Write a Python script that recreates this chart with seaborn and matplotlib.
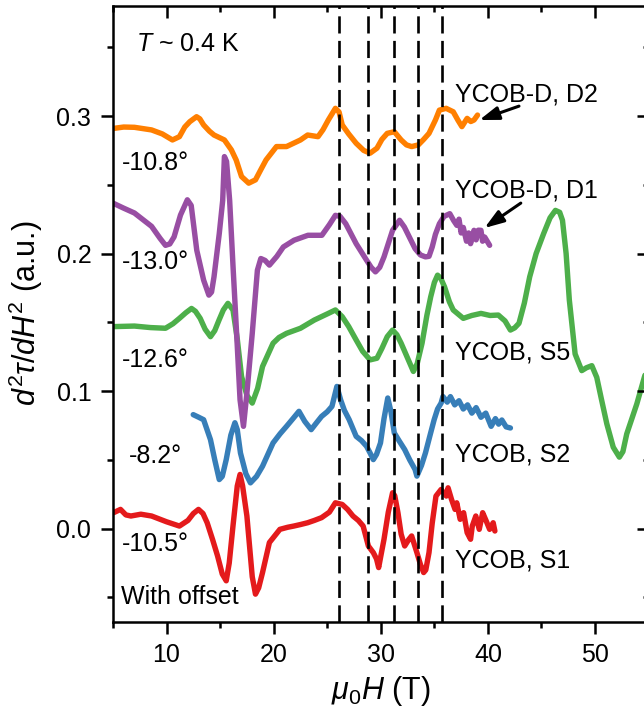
import matplotlib
matplotlib.use("Agg")
import matplotlib.pyplot as plt
from matplotlib.ticker import MultipleLocator, FormatStrFormatter
import seaborn as sns
import pandas as pd

# --- measured second-derivative torque curves (offset for clarity) ---
s1_x = [5.05, 5.7, 6.2, 6.67, 7.6, 8.6, 10.0, 11.2, 12.0, 12.5, 12.98, 13.4, 13.79, 14.3, 14.76,
        15.2, 15.57, 15.85, 16.2, 16.6, 16.86, 17.1, 17.5, 18.0, 18.3, 18.6, 18.96, 19.6,
        20.58, 21.3, 21.88, 22.5, 23.17, 23.8, 24.47, 25.2, 25.76, 26.4, 26.9, 27.4, 27.9,
        28.35, 28.84, 29.3, 29.6, 29.8, 30.0, 30.3, 30.7, 31.1, 31.3, 31.6, 31.9, 32.23, 32.6,
        32.88, 33.37, 33.7, 34.0, 34.2, 34.5, 34.8, 35.15, 35.63, 36.12, 36.28, 36.6, 36.93,
        37.09, 37.41, 37.73, 38.06, 38.38, 38.54, 38.87, 39.19, 39.51, 39.84, 40.16, 40.49,
        40.65]
s1_y = [0.0116, 0.014, 0.010, 0.0092, 0.0105, 0.0092, 0.005, 0.0019, 0.006, 0.011, 0.014,
        0.011, 0.0043, -0.008, -0.0198, -0.033, -0.0379, -0.025, 0.0019, 0.031, 0.0394, 0.031,
        0.0092, -0.035, -0.0476, -0.043, -0.0319, -0.0101, -0.0005, 0.001, 0.0019, 0.003,
        0.0043, 0.006, 0.008, 0.012, 0.0188, 0.0176, 0.014, 0.0092, 0.006, 0.0019, -0.0126,
        -0.0174, -0.022, -0.0283, -0.020, -0.0077, 0.012, 0.0261, 0.024, 0.0116, -0.004,
        -0.0126, -0.008, -0.0053, -0.0174, -0.026, -0.0319, -0.030, -0.0174, 0.004, 0.0237,
        0.0285, 0.0237, 0.0297, 0.0213, 0.0140, 0.0188, 0.0068, 0.0116, -0.0029, -0.0077,
        0.0019, 0.0092, -0.0005, 0.0116, 0.0056, -0.0005, 0.0043, -0.0017]

s2_x = [12.49, 13.0, 13.46, 14.1, 14.5, 14.92, 15.2, 15.57, 16.0, 16.38, 16.6, 16.9, 17.4,
        17.83, 18.4, 18.96, 19.94, 20.6, 21.2, 21.8, 22.36, 22.9, 23.5, 24.0, 24.47, 25.0,
        25.44, 25.9, 26.25, 26.6, 27.05, 27.7, 28.2, 28.67, 29.0, 29.3, 29.6, 29.97, 30.3,
        30.65, 30.95, 31.26, 31.7, 32.23, 32.7, 33.2, 33.37, 33.8, 34.17, 34.6, 34.98, 35.3,
        35.63, 35.8, 36.2, 36.5, 36.9, 37.3, 37.7, 38.1, 38.5, 38.9, 39.35, 39.8, 40.3, 40.7,
        41.0, 41.3, 41.7, 42.1]
s2_y = [0.0829, 0.081, 0.0792, 0.0647, 0.050, 0.0357, 0.038, 0.0502, 0.068, 0.077, 0.072,
        0.055, 0.040, 0.0333, 0.038, 0.0454, 0.0623, 0.069, 0.0744, 0.080, 0.0853, 0.078,
        0.072, 0.077, 0.0816, 0.085, 0.0889, 0.1034, 0.0937, 0.086, 0.0792, 0.0671, 0.064,
        0.0599, 0.055, 0.0502, 0.054, 0.0623, 0.080, 0.095, 0.085, 0.0696, 0.064, 0.0575,
        0.050, 0.043, 0.0382, 0.046, 0.0551, 0.068, 0.0792, 0.087, 0.0913, 0.0961, 0.092,
        0.096, 0.090, 0.093, 0.087, 0.090, 0.084, 0.088, 0.081, 0.084, 0.0744, 0.080, 0.076,
        0.079, 0.074, 0.0732]

s5_x = [5.05, 7.0, 8.5, 9.9, 10.6, 11.2, 11.8, 12.33, 12.7, 13.14, 13.6, 14.1, 14.5, 14.9,
        15.3, 15.73, 16.2, 16.6, 17.0, 17.5, 18.0, 18.5, 18.96, 19.94, 20.5, 21.2, 22.5, 23.8,
        25.1, 25.76, 26.4, 27.0, 27.7, 28.3, 29.0, 29.64, 30.1, 30.6, 31.1, 31.5, 31.9, 32.5,
        33.04, 33.4, 33.85, 34.3, 34.66, 35.0, 35.3, 35.6, 35.95, 36.4, 36.76, 37.7, 38.5,
        39.35, 40.2, 40.97, 41.6, 42.1, 42.5, 42.9, 43.4, 43.9, 44.5, 45.2, 45.8, 46.3, 46.7,
        46.96, 47.3, 47.6, 48.14, 48.76, 49.2, 49.7, 50.16, 50.6, 51.1, 51.7, 52.27, 52.6,
        52.96, 53.9, 54.6, 55.2]
s5_y = [0.1469, 0.1473, 0.1462, 0.1457, 0.149, 0.1529, 0.157, 0.1601, 0.158, 0.1529, 0.145,
        0.1396, 0.144, 0.1517, 0.159, 0.1638, 0.159, 0.138, 0.1106, 0.097, 0.0913, 0.102,
        0.1179, 0.1348, 0.139, 0.142, 0.1457, 0.1517, 0.1565, 0.159, 0.1541, 0.147, 0.1372,
        0.129, 0.1227, 0.1239, 0.131, 0.1396, 0.1444, 0.141, 0.1348, 0.124, 0.1143, 0.120,
        0.1348, 0.155, 0.1686, 0.179, 0.1843, 0.182, 0.1758, 0.165, 0.159, 0.1529, 0.155,
        0.1565, 0.155, 0.1553, 0.151, 0.1444, 0.146, 0.1493, 0.164, 0.1831, 0.200, 0.2145,
        0.226, 0.2314, 0.230, 0.2242, 0.200, 0.1662, 0.127, 0.1149, 0.117, 0.1185, 0.110,
        0.094, 0.0762, 0.0592, 0.052, 0.056, 0.0689, 0.0907, 0.110, 0.125]

d1_x = [5.05, 6.0, 7.0, 8.6, 9.4, 9.9, 10.3, 10.7, 11.3, 11.94, 12.3, 12.82, 13.46, 13.95,
        14.2, 14.43, 14.92, 15.24, 15.4, 15.6, 15.89, 16.21, 16.54, 16.86, 17.18, 17.5, 18.0,
        18.48, 18.8, 19.2, 19.6, 20.3, 20.9, 21.9, 23.2, 24.5, 25.2, 25.76, 26.2, 26.73, 27.7,
        28.67, 29.1, 29.5, 29.9, 30.3, 31.1, 31.75, 32.2, 33.2, 33.7, 34.17, 34.5, 34.8,
        35.1, 35.47, 35.9, 36.44, 36.8, 37.1, 37.3, 37.5, 37.7, 38.0, 38.2, 38.38, 38.7,
        38.9, 39.1, 39.35, 39.5, 39.7, 40.16]
d1_y = [0.2365, 0.233, 0.2295, 0.2198, 0.211, 0.206, 0.207, 0.2121, 0.228, 0.2391, 0.235,
        0.2024, 0.1807, 0.1698, 0.172, 0.1831, 0.2145, 0.2386, 0.2705, 0.267, 0.2386, 0.19,
        0.142, 0.0937, 0.0744, 0.0986, 0.142, 0.1879, 0.1964, 0.195, 0.1916, 0.198, 0.2048,
        0.2097, 0.2133, 0.2133, 0.221, 0.2278, 0.227, 0.2217, 0.2072, 0.1952, 0.190, 0.1867,
        0.190, 0.1976, 0.2169, 0.2242, 0.2193, 0.2036, 0.199, 0.1976, 0.198, 0.2048, 0.214,
        0.2217, 0.227, 0.229, 0.224, 0.2205, 0.225, 0.215, 0.219, 0.209, 0.215, 0.2072,
        0.2169, 0.210, 0.217, 0.2169, 0.209, 0.212, 0.206]

d2_x = [5.05, 6.0, 7.0, 8.6, 9.6, 10.55, 11.2, 11.7, 12.17, 12.8, 13.1, 13.46, 14.0, 14.43,
        15.4, 16.05, 16.5, 17.0, 17.67, 18.3, 18.8, 19.29, 20.26, 21.2, 22.5, 23.17, 24.14,
        24.6, 25.1, 25.76, 26.1, 26.4, 27.0, 27.7, 28.4, 29.0, 29.64, 30.1, 30.6, 31.26,
        31.9, 32.4, 32.88, 33.5, 34.0, 34.5, 35.1, 35.47, 36.1, 36.76, 37.2, 37.57, 38.06,
        38.4, 38.7, 39.03]
d2_y = [0.291, 0.292, 0.2918, 0.2899, 0.287, 0.2826, 0.285, 0.292, 0.2959, 0.2995, 0.298,
        0.2935, 0.289, 0.2862, 0.2826, 0.2754, 0.268, 0.256, 0.2512, 0.2536, 0.261, 0.2681,
        0.2778, 0.2778, 0.2826, 0.2862, 0.285, 0.290, 0.2971, 0.3056, 0.303, 0.2935, 0.287,
        0.2802, 0.275, 0.273, 0.2766, 0.283, 0.2874, 0.2886, 0.2826, 0.279, 0.2778, 0.279,
        0.283, 0.2874, 0.2971, 0.3043, 0.3056, 0.3031, 0.297, 0.2923, 0.2983, 0.296, 0.2971,
        0.3007]

samples = ["YCOB, S1", "YCOB, S2", "YCOB, S5", "YCOB-D, D1", "YCOB-D, D2"]
angles = ["-10.5°", "-8.2°", "-12.6°", "-13.0°", "-10.8°"]
colors = ["#E41A1C", "#377EB8", "#4DAF4A", "#984EA3", "#FF7F00"]
series_x = [s1_x, s2_x, s5_x, d1_x, d2_x]
series_y = [s1_y, s2_y, s5_y, d1_y, d2_y]

# field positions of the marked oscillation features
feature_fields = [26.1, 28.8, 31.2, 33.5, 35.75]

x_ticks = [10, 20, 30, 40, 50]
y_ticks = [0.0, 0.1, 0.2, 0.3]

frames = []
for name, xs, ys in zip(samples, series_x, series_y):
    frames.append(pd.DataFrame({"field": xs, "signal": ys, "sample": name}))
df = pd.concat(frames, ignore_index=True)

sns.set_theme(style="ticks")
plt.rcParams["font.family"] = ["Liberation Sans", "DejaVu Sans"]
plt.rcParams["mathtext.fontset"] = "custom"
plt.rcParams["mathtext.rm"] = "Liberation Sans"
plt.rcParams["mathtext.it"] = "Liberation Sans:italic"
plt.rcParams["mathtext.bf"] = "Liberation Sans:bold"
for key in ["text.color", "axes.labelcolor", "xtick.color", "ytick.color", "axes.edgecolor"]:
    plt.rcParams[key] = "black"

W, H = 644, 723
fig = plt.figure(figsize=(W / 100, H / 100), dpi=100)
left_px, right_px, top_px, bottom_px = 113, 648.6, 6, 621.5
ax = fig.add_axes([left_px / W, 1 - bottom_px / H,
                   (right_px - left_px) / W, (bottom_px - top_px) / H])

sns.lineplot(data=df, x="field", y="signal", hue="sample", hue_order=samples,
             palette=colors, sort=False, estimator=None, units="sample",
             linewidth=3.9, legend=False, ax=ax)
for line in ax.get_lines():
    line.set_solid_joinstyle("round")
    line.set_solid_capstyle("round")

for xf in feature_fields:
    ax.axvline(xf, color="black", lw=1.9, dashes=(6.5, 2.8), zorder=5)

ax.set_xlim(5, 55)
ax.set_ylim(-0.0675, 0.38)
ax.set_xticks(x_ticks)
ax.set_yticks(y_ticks)
ax.xaxis.set_minor_locator(MultipleLocator(5))
ax.yaxis.set_minor_locator(MultipleLocator(0.05))
ax.yaxis.set_major_formatter(FormatStrFormatter("%.1f"))

fs = 18
ax.tick_params(which="major", direction="out", length=8.6, width=1.8,
               labelsize=fs, pad=7)
ax.tick_params(which="minor", direction="out", length=4.3, width=1.8)
for sp in ax.spines.values():
    sp.set_linewidth(1.8)

# inward ticks on the top and right edges
ax2 = fig.add_axes(ax.get_position(), sharex=ax, sharey=ax, frameon=False)
ax2.patch.set_visible(False)
ax2.tick_params(which="both", direction="in", top=True, right=True, bottom=False,
                left=False, labelbottom=False, labelleft=False, width=1.8)
ax2.tick_params(which="major", length=8.6)
ax2.tick_params(which="minor", length=4.3)

ax.set_xlabel(r"$\mu_{\mathrm{0}}H$ (T)", fontsize=22, labelpad=5)
ax.set_ylabel(r"$d^2\tau/dH^2$ (a.u.)", fontsize=22, labelpad=8)

# curve annotations
angle_pos = [(5.86, -0.0114), (6.5, 0.0527), (5.86, 0.1227), (5.86, 0.194), (5.86, 0.2657)]
for txt, (xa, ya) in zip(angles, angle_pos):
    ax.text(xa, ya, txt, fontsize=fs, ha="left", va="center")

name_pos = [(36.9, -0.023), (36.9, 0.0539), (36.9, 0.128), (36.9, 0.2459), (36.9, 0.3157)]
for txt, (xa, ya) in zip(samples, name_pos):
    ax.text(xa, ya, txt, fontsize=fs, ha="left", va="center")

ax.text(7.15, 0.3522, r"$T$ ~ 0.4 K", fontsize=fs, ha="left", va="center")
ax.text(5.76, -0.0495, "With offset", fontsize=fs, ha="left", va="center")

arrow_style = dict(arrowstyle="-|>,head_length=0.58,head_width=0.2", lw=2.2,
                   color="black", shrinkA=0, shrinkB=0, mutation_scale=20)
ax.annotate("", xy=(39.2, 0.2971), xytext=(42.9, 0.3072), arrowprops=arrow_style)
ax.annotate("", xy=(39.68, 0.2186), xytext=(43.07, 0.2367), arrowprops=arrow_style)

fig.savefig("out.png", dpi=100)
